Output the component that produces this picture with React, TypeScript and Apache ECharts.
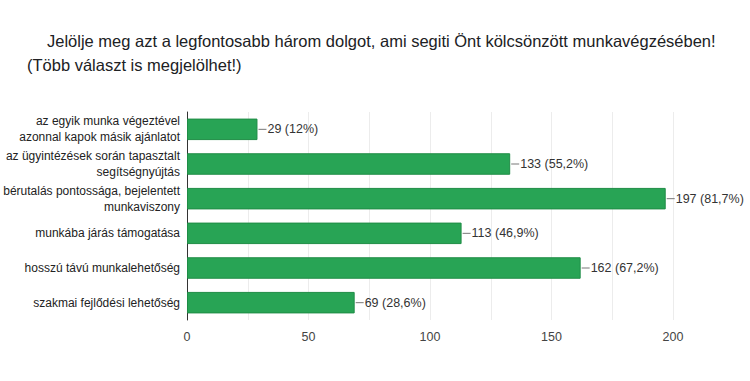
import React, { useEffect, useRef } from "react";
import * as echarts from "echarts";

const categories = [
  "az egyik munka végeztével\nazonnal kapok másik ajánlatot",
  "az ügyintézések során tapasztalt\nsegítségnyújtás",
  "bérutalás pontossága, bejelentett\nmunkaviszony",
  "munkába járás támogatása",
  "hosszú távú munkalehetőség",
  "szakmai fejlődési lehetőség",
];
const values = [29, 133, 197, 113, 162, 69];
const percents = ["12%", "55,2%", "81,7%", "46,9%", "67,2%", "28,6%"];
const titleLine1 = "Jelölje meg azt a legfontosabb három dolgot, ami segiti Önt kölcsönzött munkavégzésében!";
const titleLine2 = "(Több választ is megjelölhet!)";

const FONT = "'Liberation Sans', Arial, sans-serif";

export default function App() {
  const ref = useRef<HTMLDivElement>(null);
  useEffect(() => {
    const chart = echarts.init(ref.current!, null, { renderer: "svg" });
    chart.setOption({
      animation: false,
      textStyle: { fontFamily: FONT },
      title: [
        {
          text: titleLine1,
          left: 42,
          top: 27,
          textStyle: { fontSize: 16.5, fontWeight: "normal", color: "#202124", fontFamily: FONT },
        },
        {
          text: titleLine2,
          left: 22,
          top: 51,
          textStyle: { fontSize: 16.5, fontWeight: "normal", color: "#202124", fontFamily: FONT },
        },
      ],
      grid: { left: 187, right: 77, top: 112, bottom: 61, containLabel: false, outerBoundsMode: "none" },
      xAxis: {
        type: "value",
        min: 0,
        max: 200,
        interval: 25,
        axisLine: { show: false },
        axisTick: { show: false },
        splitLine: { lineStyle: { color: "#ececec", width: 1 } },
        axisLabel: {
          color: "#444",
          fontSize: 12.5,
          margin: 10,
          formatter: (v: number) => (v % 50 === 0 ? String(v) : ""),
        },
      },
      yAxis: {
        type: "category",
        data: categories,
        inverse: true,
        axisLine: { show: true, lineStyle: { color: "#333", width: 1 } },
        axisTick: { show: false },
        axisLabel: { color: "#222", fontSize: 12, lineHeight: 16, margin: 7, align: "right" },
      },
      series: [
        {
          type: "bar",
          data: values,
          barCategoryGap: "38%",
          itemStyle: { color: "#28a455", borderColor: "#1f8c46", borderWidth: 1 },
          label: {
            show: true,
            position: "right",
            distance: 1,
            color: "#333",
            fontSize: 12.5,
            formatter: (p: any) => `{l|}{t|${p.value} (${percents[p.dataIndex]})}`,
            rich: {
              l: { width: 8, height: 1, backgroundColor: "#777" },
              t: { color: "#333", fontSize: 12.5, padding: [0, 0, 0, 1], fontFamily: FONT },
            },
          },
        },
      ],
    });
    return () => chart.dispose();
  }, []);
  return (
    <div
      ref={ref}
      style={{ position: "fixed", left: 0, top: 0, width: 750, height: 381, background: "#fff" }}
    />
  );
}
